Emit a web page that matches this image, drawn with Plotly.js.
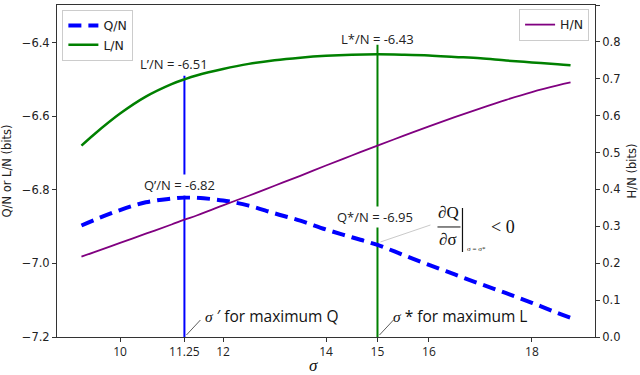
<!DOCTYPE html>
<html>
<head>
<meta charset="utf-8">
<script src="https://cdn.plot.ly/plotly-3.0.1.min.js"></script>
<style>
  html, body { margin: 0; padding: 0; background: #fff; }
  #chart { width: 640px; height: 375px; }
</style>
</head>
<body>
<div id="chart"></div>
<script>
// valores
const sigma = [9.25, 9.5, 10, 10.5, 11, 11.25, 11.5, 12, 12.5, 13, 13.5, 14, 14.5, 15, 15.5, 16, 16.5, 17, 17.5, 18, 18.5, 18.75];
const qN = [-6.897, -6.882, -6.855, -6.834, -6.824, -6.821, -6.822, -6.829, -6.843, -6.864, -6.884, -6.908, -6.929, -6.950, -6.977, -7.004, -7.030, -7.056, -7.081, -7.107, -7.135, -7.148];
const lN = [-6.680, -6.649, -6.593, -6.547, -6.513, -6.500, -6.489, -6.472, -6.458, -6.448, -6.441, -6.436, -6.433, -6.432, -6.433, -6.435, -6.439, -6.443, -6.449, -6.454, -6.459, -6.462];
const hN = [0.218, 0.230, 0.255, 0.280, 0.305, 0.318, 0.330, 0.357, 0.383, 0.410, 0.437, 0.465, 0.492, 0.519, 0.545, 0.571, 0.596, 0.620, 0.643, 0.664, 0.682, 0.690];

const xTicks = [10, 11.25, 12, 14, 15, 16, 18];

// pontos marcados
const sigmaPrime = 11.25;   // máximo de Q
const sigmaStar = 15;       // máximo de L
const lPrime = -6.51, lStar = -6.43;
const qPrime = -6.82, qStar = -6.95;
const yBottom = -7.2;
const blueTop = -6.49, greenTop = -6.406;

const sansFont = 'DejaVu Sans, sans-serif';
const labelFont = 'Open Sans, sans-serif';
const serifFont = 'Liberation Serif, serif';

const traces = [{
    x: [sigmaPrime, sigmaPrime],
    y: [yBottom, blueTop],
    mode: 'lines',
    line: {color: '#0000ff', width: 2},
    showlegend: false,
    hoverinfo: 'skip'
}, {
    x: [sigmaStar, sigmaStar],
    y: [yBottom, greenTop],
    mode: 'lines',
    line: {color: '#008000', width: 2},
    showlegend: false,
    hoverinfo: 'skip'
}, {
    x: sigma,
    y: qN,
    name: 'Q/N',
    mode: 'lines',
    line: {color: '#0000ff', width: 4, dash: '13px,7px', shape: 'spline', smoothing: 1},
    legend: 'legend'
}, {
    x: sigma,
    y: lN,
    name: 'L/N',
    mode: 'lines',
    line: {color: '#008000', width: 2.5, shape: 'spline', smoothing: 1},
    legend: 'legend'
}, {
    x: sigma,
    y: hN,
    name: 'H/N',
    mode: 'lines',
    yaxis: 'y2',
    line: {color: '#800080', width: 1.8, shape: 'spline', smoothing: 1},
    legend: 'legend2'
}];

const txt = (text, x, y, extra) => Object.assign({
    text: text, x: x, y: y, xref: 'x', yref: 'y',
    showarrow: false,
    font: {family: labelFont, size: 13, color: '#222'}
}, extra || {});

const annotations = [
    txt(`L’/N = ${lPrime}`, 11.04, -6.458),
    txt(`L*/N = ${lStar}`, 15.0, -6.39),
    txt(`Q’/N = ${qPrime}`, 11.16, -6.786, {bgcolor: '#fff', borderpad: 1}),
    txt(`Q*/N = ${qStar}`, 14.96, -6.874, {bgcolor: '#fff', borderpad: 1}),
    txt(`<span style="font-family:${serifFont}"><i>σ</i></span> ′ for maximum Q`, 11.61, -7.144,
        {xanchor: 'left', font: {family: labelFont, size: 15.5, color: '#111'}}),
    txt(`<span style="font-family:${serifFont}"><i>σ</i></span> * for maximum L`, 15.27, -7.144,
        {xanchor: 'left', font: {family: labelFont, size: 15.5, color: '#111'}}),
    // derivada
    txt('∂Q', sigmaStar, qStar, {xshift: 71, yshift: 32, font: {family: serifFont, size: 17, color: '#111'}}),
    txt('∂σ', sigmaStar, qStar, {xshift: 71, yshift: 5, font: {family: serifFont, size: 17, color: '#111'}}),
    txt('σ = σ*', sigmaStar, qStar, {xshift: 99, yshift: -4, font: {family: serifFont, size: 7, color: '#111'}}),
    txt('&lt; 0', sigmaStar, qStar, {xshift: 126, yshift: 18, font: {family: serifFont, size: 18, color: '#111'}}),
    // título do eixo x
    {text: '<i>σ</i>', xref: 'paper', yref: 'paper', x: 0.476, y: -0.085, yanchor: 'middle',
     showarrow: false, font: {family: serifFont, size: 17, color: '#111'}}
];

const pxLine = (xa, ya, x0, y0, x1, y1, color, width) => ({
    type: 'line', xref: 'x', yref: 'y',
    xsizemode: 'pixel', ysizemode: 'pixel',
    xanchor: xa, yanchor: ya,
    x0: x0, y0: y0, x1: x1, y1: y1,
    line: {color: color, width: width}
});

const shapes = [
    pxLine(sigmaPrime, yBottom, 2, 2, 16, 17, '#333', 0.8),
    pxLine(sigmaStar, yBottom, 2, 2, 16, 17, '#333', 0.8),
    pxLine(sigmaStar, qStar, 3, 3, 53, 20, '#bbb', 0.8),
    pxLine(sigmaStar, qStar, 60, 18, 83, 18, '#111', 1),
    pxLine(sigmaStar, qStar, 85, -7, 85, 37, '#111', 1.2)
];

const axisBase = {
    showgrid: false,
    zeroline: false,
    showline: true,
    linecolor: '#333',
    linewidth: 1,
    ticks: 'outside',
    ticklen: 4,
    tickcolor: '#333',
    tickfont: {family: sansFont, size: 11.5, color: '#222'}
};

const layout = {
    width: 640,
    height: 375,
    margin: {l: 57, r: 45, t: 5, b: 38},
    paper_bgcolor: '#fff',
    plot_bgcolor: '#fff',
    font: {family: sansFont, color: '#222'},
    xaxis: Object.assign({}, axisBase, {
        range: [8.775, 19.225],
        tickvals: xTicks,
        ticktext: xTicks.map(String),
        mirror: true,
        tickfont: {family: labelFont, size: 12, color: '#222'}
    }),
    yaxis: Object.assign({}, axisBase, {
        range: [-7.2, -6.298],
        tick0: -7.2,
        dtick: 0.2,
        tickformat: '.1f',
        title: {text: 'Q/N or L/N (bits)', font: {family: sansFont, size: 11.5, color: '#222'}, standoff: 7}
    }),
    yaxis2: Object.assign({}, axisBase, {
        overlaying: 'y',
        side: 'right',
        range: [0, 0.9],
        tick0: 0,
        dtick: 0.1,
        tickformat: '.1f',
        title: {text: 'H/N (bits)', font: {family: sansFont, size: 11.5, color: '#222'}, standoff: 8}
    }),
    legend: {
        x: 0.01, y: 0.985, xanchor: 'left', yanchor: 'top',
        bgcolor: 'rgba(255,255,255,0.85)', bordercolor: '#ccc', borderwidth: 1,
        font: {family: sansFont, size: 12.5, color: '#222'},
        itemwidth: 30, tracegroupgap: 0
    },
    legend2: {
        x: 0.989, y: 0.988, xanchor: 'right', yanchor: 'top',
        bgcolor: 'rgba(255,255,255,0.85)', bordercolor: '#ccc', borderwidth: 1,
        font: {family: sansFont, size: 12.5, color: '#222'},
        itemwidth: 30
    },
    annotations: annotations,
    shapes: shapes,
    showlegend: true
};

Plotly.newPlot('chart', traces, layout, {staticPlot: true});
</script>
</body>
</html>
